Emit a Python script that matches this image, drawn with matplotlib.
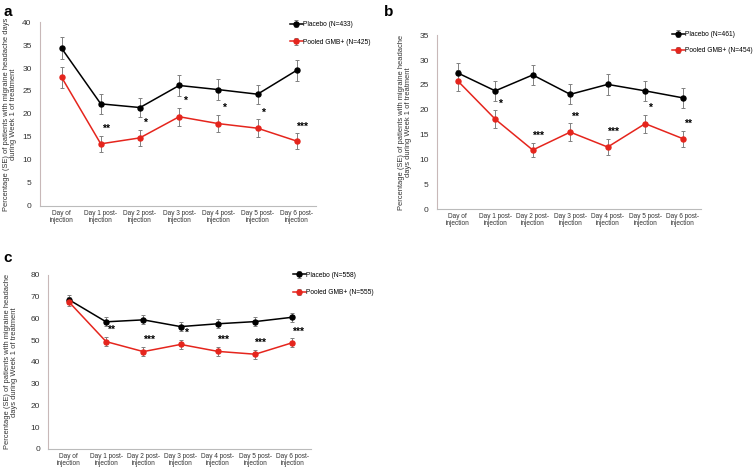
import matplotlib
matplotlib.use("Agg")
from matplotlib import pyplot as plt
import numpy as np

plt.rcParams['font.family'] = ['Liberation Sans', 'DejaVu Sans']

days = ["Day of\ninjection", "Day 1 post-\ninjection", "Day 2 post-\ninjection",
        "Day 3 post-\ninjection", "Day 4 post-\ninjection", "Day 5 post-\ninjection",
        "Day 6 post-\ninjection"]

# panel a
a_placebo = [34.3, 22.2, 21.4, 26.2, 25.3, 24.3, 29.5]
a_placebo_se = [2.4, 2.1, 2.1, 2.3, 2.2, 2.1, 2.3]
a_gmb = [28.0, 13.5, 14.8, 19.4, 17.9, 16.9, 14.1]
a_gmb_se = [2.3, 1.7, 1.8, 2.0, 1.9, 1.9, 1.7]
a_stars = ["", "**", "*", "*", "*", "*", "***"]

# panel b
b_placebo = [27.4, 23.8, 27.0, 23.1, 25.1, 23.8, 22.4]
b_placebo_se = [2.1, 2.0, 2.1, 2.0, 2.1, 2.0, 2.0]
b_gmb = [25.8, 18.1, 11.9, 15.5, 12.5, 17.2, 14.2]
b_gmb_se = [2.1, 1.8, 1.5, 1.8, 1.6, 1.8, 1.6]
b_stars = ["", "*", "***", "**", "***", "*", "**"]

# panel c
c_placebo = [68.6, 58.4, 59.3, 56.2, 57.5, 58.5, 60.5]
c_placebo_se = [2.0, 2.1, 2.1, 2.1, 2.1, 2.1, 2.1]
c_gmb = [67.6, 49.3, 44.7, 48.0, 44.8, 43.5, 48.8]
c_gmb_se = [2.1, 2.1, 2.1, 2.1, 2.1, 2.1, 2.1]
c_stars = ["", "**", "***", "*", "***", "***", "***"]

RED = '#e5251d'
fig = plt.figure(figsize=(7.55, 4.69), dpi=100)


def panel(rect, letter, letter_pos, placebo, p_se, gmb, g_se, stars, n_p, n_g,
          ymax, step, ylabel, label_x, leg_pos, leg_space):
    ax = fig.add_axes(rect)
    x = np.arange(len(days))
    ax.errorbar(x, placebo, yerr=p_se, color='black', marker='o', markersize=3.6,
                lw=1.1, ecolor='#808080', elinewidth=0.7, capsize=1.6, capthick=0.7,
                label="Placebo (N=%d)" % n_p, zorder=3)
    ax.errorbar(x, gmb, yerr=g_se, color=RED, marker='o', markersize=3.6,
                lw=1.1, ecolor='#808080', elinewidth=0.7, capsize=1.6, capthick=0.7,
                label="Pooled GMB+ (N=%d)" % n_g, zorder=3)
    for i, s in enumerate(stars):
        if s:
            ax.text(i + 0.14, gmb[i] + g_se[i] + ymax * 0.01, s, ha='center',
                    va='bottom', fontsize=7.5, fontweight='bold')
    ax.set_xlim(-0.55, 6.5)
    ax.set_ylim(0, ymax)
    ax.set_yticks(np.arange(0, ymax + 1, step))
    ax.set_xticks(x)
    ax.set_xticklabels(days, fontsize=4.7, linespacing=1.0)
    ax.tick_params(axis='y', length=0, pad=6, labelsize=6, colors='#333333')
    ax.tick_params(axis='x', length=0, pad=3, colors='#333333')
    for sp in ['top', 'right']:
        ax.spines[sp].set_visible(False)
    ax.spines['left'].set_color('#c8b8b8')
    ax.spines['bottom'].set_color('#bbbbbb')
    ax.spines['left'].set_linewidth(0.8)
    ax.spines['bottom'].set_linewidth(0.8)
    ax.set_ylabel(ylabel, fontsize=5.4, linespacing=1.0, color='#333333')
    ax.yaxis.set_label_coords(label_x, 0.5)
    ax.legend(loc='upper left', bbox_to_anchor=leg_pos, bbox_transform=fig.transFigure,
              frameon=False, fontsize=4.8, handlelength=1.9, handletextpad=0.1,
              borderpad=0, borderaxespad=0, labelspacing=leg_space)
    fig.text(letter_pos[0], letter_pos[1], letter, fontsize=11, fontweight='bold',
             va='top')
    return ax


panel([0.053, 0.561, 0.366, 0.392], 'a', (0.004, 0.99), a_placebo, a_placebo_se,
      a_gmb, a_gmb_se, a_stars, 433, 425, 40, 5,
      "Percentage (SE) of patients with migraine headache days\nduring Week 1 of treatment",
      -0.085, (0.384, 0.955), 1.6)
panel([0.579, 0.554, 0.350, 0.371], 'b', (0.509, 0.99), b_placebo, b_placebo_se,
      b_gmb, b_gmb_se, b_stars, 461, 454, 35, 5,
      "Percentage (SE) of patients with migraine headache\ndays during Week 1 of treatment",
      -0.095, (0.890, 0.934), 1.4)
panel([0.064, 0.043, 0.348, 0.371], 'c', (0.004, 0.465), c_placebo, c_placebo_se,
      c_gmb, c_gmb_se, c_stars, 558, 555, 80, 10,
      "Percentage (SE) of patients with migraine headache\ndays during Week 1 of treatment",
      -0.114, (0.388, 0.421), 1.6)

fig.savefig("out.png", dpi=100)
